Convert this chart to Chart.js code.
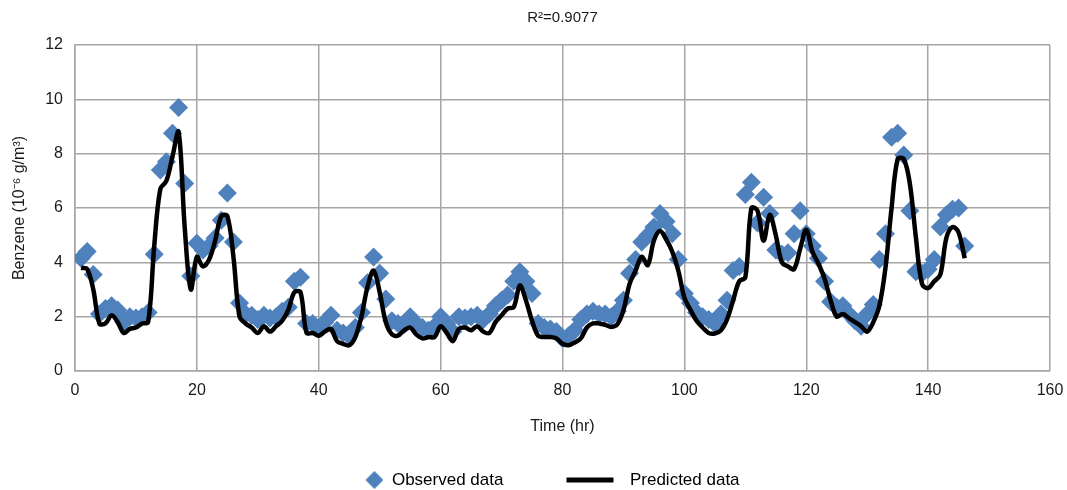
<!DOCTYPE html>
<html>
<head>
<meta charset="utf-8">
<script src="https://cdn.jsdelivr.net/npm/chart.js@4.4.0/dist/chart.umd.min.js"></script>
<style>
	html, body { margin: 0; padding: 0; background: #fff; }
</style>
</head>
<body>
<canvas id="myChart" width="1067" height="490"></canvas>
<script>
// time index (hr)
const hours = Array.from({length: 146}, (_, i) => i + 1);

// observed benzene (10^-6 g/m3)
const observed = [
	4.15, 4.4, 3.55, 2.1, 2.3, 2.4, 2.25, 1.8, 2.0, 1.95,
	2.0, 2.15, 4.3, 7.4, 7.7, 8.75, 9.7, 6.9, 3.5, 4.7,
	4.45, 4.6, 4.9, 5.55, 6.55, 4.75, 2.5, 2.1, 2.05, 1.9,
	2.05, 1.95, 2.0, 2.2, 2.35, 3.3, 3.45, 1.75, 1.75, 1.6,
	1.8, 2.05, 1.5, 1.4, 1.3, 1.6, 2.15, 3.25, 4.2, 3.6,
	2.65, 1.85, 1.75, 1.7, 2.0, 1.75, 1.6, 1.5, 1.65, 2.0,
	1.75, 1.45, 2.0, 1.95, 2.0, 2.05, 1.9, 2.1, 2.4, 2.6,
	2.8, 3.3, 3.65, 3.3, 2.85, 1.75, 1.6, 1.55, 1.45, 1.2,
	1.3, 1.5, 1.9, 2.1, 2.2, 2.1, 2.1, 2.0, 2.2, 2.6,
	3.6, 4.1, 4.75, 5.0, 5.3, 5.8, 5.5, 5.05, 4.1, 2.85,
	2.5, 2.15, 2.0, 1.9, 1.75, 2.1, 2.6, 3.7, 3.85, 6.5,
	6.95, 5.45, 6.4, 5.8, 4.45, 4.3, 4.35, 5.05, 5.9, 5.05,
	4.6, 4.15, 3.3, 2.55, 2.35, 2.4, 2.1, 1.85, 1.65, 2.1,
	2.45, 4.1, 5.05, 8.6, 8.75, 7.95, 5.9, 3.65, 3.6, 3.75,
	4.1, 5.3, 5.75, 5.95, 6.0, 4.6
];

// model output
const predicted = [
	3.8, 3.75, 3.0, 1.75, 1.75, 2.05, 1.8, 1.4, 1.55, 1.6,
	1.75, 1.8, 4.6, 6.7, 7.0, 7.9, 8.8, 5.3, 3.0, 4.2,
	3.85, 4.1, 4.8, 5.7, 5.7, 4.2, 2.0, 1.75, 1.6, 1.4,
	1.65, 1.45, 1.65, 1.85, 2.25, 2.9, 2.9, 1.4, 1.4, 1.3,
	1.45, 1.55, 1.1, 1.0, 0.95, 1.25, 2.0, 3.1, 3.7, 2.9,
	1.8, 1.35, 1.3, 1.5, 1.6, 1.35, 1.2, 1.25, 1.25, 1.65,
	1.4, 1.1, 1.55, 1.6, 1.5, 1.65, 1.45, 1.4, 1.8, 2.05,
	2.3, 2.35, 3.15, 2.6, 1.85, 1.3, 1.25, 1.25, 1.2, 1.0,
	0.95, 1.05, 1.2, 1.6, 1.75, 1.75, 1.7, 1.62, 1.72, 2.24,
	3.2, 3.7, 4.2, 3.9, 4.8, 5.15, 4.85, 4.4, 3.7, 2.7,
	2.25, 1.85, 1.6, 1.4, 1.38, 1.5, 1.9, 2.6, 3.3, 3.45,
	6.0, 5.9, 4.8, 5.75, 5.0, 4.0, 3.85, 3.75, 4.5, 5.2,
	4.4, 3.95, 3.4, 2.6, 2.0, 2.1, 1.95, 1.8, 1.65, 1.45,
	1.8, 2.4, 3.8, 6.0, 7.8, 7.8, 6.9, 4.9, 3.2, 3.05,
	3.3, 3.55, 4.9, 5.3, 5.1, 4.15
];

const xTicks = [0, 20, 40, 60, 80, 100, 120, 140, 160];
const yTicks = [0, 2, 4, 6, 8, 10, 12];

const blue = '#4f81bd';
const gridGray = '#a6a6a6';
const textColor = '#1a1a1a';

Chart.defaults.font.family = '"Liberation Sans", Arial, Helvetica, sans-serif';
Chart.defaults.color = textColor;

// legend symbols
function makeObsIcon(){
	const c = document.createElement('canvas');
	c.width = 56; c.height = 20;
	const g = c.getContext('2d');
	g.fillStyle = blue;
	g.beginPath();
	g.moveTo(38, 10); g.lineTo(47, 1); g.lineTo(56, 10); g.lineTo(47, 19);
	g.closePath();
	g.fill();
	return c;
}
function makePredIcon(){
	const c = document.createElement('canvas');
	c.width = 56; c.height = 20;
	const g = c.getContext('2d');
	g.strokeStyle = '#000';
	g.lineWidth = 5;
	g.beginPath();
	g.moveTo(1, 10); g.lineTo(48, 10);
	g.stroke();
	return c;
}
const obsIcon = makeObsIcon();
const predIcon = makePredIcon();

const ctx = document.getElementById('myChart').getContext('2d');

const myChart = new Chart(ctx, {
	type: 'line',
	data: {
		datasets: [{
			label: 'Predicted data',
			data: hours.map((h, i) => ({x: h, y: predicted[i]})),
			borderColor: '#000',
			borderWidth: 4.5,
			pointRadius: 0,
			tension: 0.35,
			fill: false
		}, {
			label: 'Observed data',
			data: hours.map((h, i) => ({x: h, y: observed[i]})),
			showLine: false,
			pointStyle: 'rectRot',
			pointRadius: 9.5,
			pointHoverRadius: 9.5,
			pointBackgroundColor: blue,
			pointBorderWidth: 0,
			backgroundColor: blue,
			borderColor: blue
		}]
	},
	options: {
		responsive: false,
		animation: false,
		layout: { padding: { left: 0, right: 0, top: 0, bottom: -8.5 } },
		plugins: {
			title: {
				display: true,
				fullSize: false,
				text: 'R²=0.9077',
				font: { size: 15, weight: 'normal' },
				color: textColor,
				padding: { top: 9, bottom: 18 }
			},
			legend: {
				position: 'bottom',
				labels: {
					usePointStyle: true,
					pointStyleWidth: 56,
					padding: 62,
					font: { size: 17 },
					color: textColor,
					generateLabels: function(chart){
						return [
							{ text: 'Observed data', pointStyle: obsIcon, datasetIndex: 1, fillStyle: blue, strokeStyle: blue, lineWidth: 0, hidden: false },
							{ text: 'Predicted data', pointStyle: predIcon, datasetIndex: 0, fillStyle: '#000', strokeStyle: '#000', lineWidth: 0, hidden: false }
						];
					}
				}
			},
			tooltip: { enabled: false }
		},
		scales: {
			x: {
				type: 'linear',
				min: 0,
				max: 160,
				afterBuildTicks: function(scale){ scale.ticks = xTicks.map(v => ({value: v})); },
				afterFit: function(scale){ scale.height = 38.5; scale.paddingRight = 17; },
				grid: { color: gridGray, lineWidth: 1.5, drawTicks: false },
				border: { color: gridGray, width: 1.5 },
				ticks: { padding: 10, font: { size: 16 }, color: textColor, maxRotation: 0 },
				title: {
					display: true,
					text: 'Time (hr)',
					font: { size: 16 },
					color: textColor,
					padding: { top: 17, bottom: -27 }
				}
			},
			y: {
				min: 0,
				max: 12,
				afterBuildTicks: function(scale){ scale.ticks = yTicks.map(v => ({value: v})); },
				afterFit: function(scale){ scale.width = 75; },
				grid: { color: gridGray, lineWidth: 1.5, drawTicks: false },
				border: { color: gridGray, width: 1.5 },
				ticks: { padding: 12, font: { size: 16 }, color: textColor },
				title: {
					display: true,
					text: 'Benzene (10⁻⁶ g/m³)',
					font: { size: 16 },
					color: textColor,
					padding: { top: 10, bottom: 0 }
				}
			}
		}
	}
});
</script>
</body>
</html>
